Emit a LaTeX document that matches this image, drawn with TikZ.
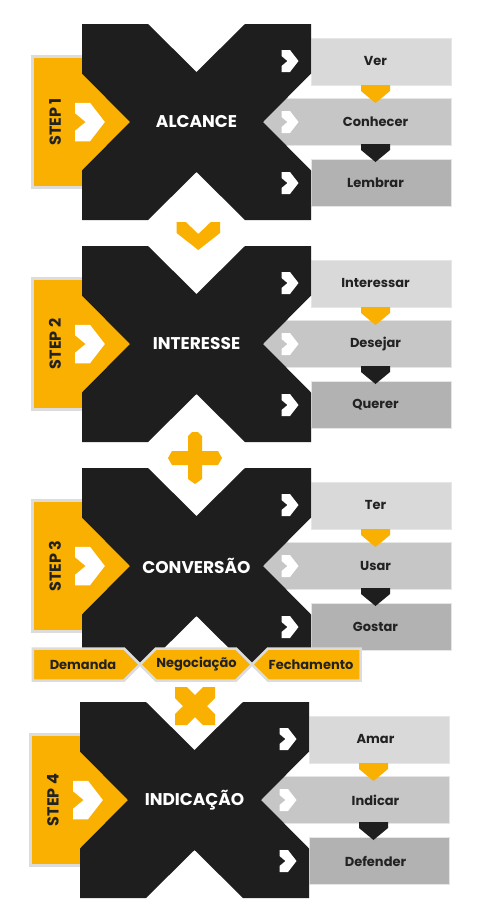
\documentclass[tikz,border=0pt]{standalone}
\usepackage{fontspec}
\setmainfont{Poppins}
\usetikzlibrary{positioning}

\definecolor{xblack}{HTML}{1E1E1E}
\definecolor{gold}{HTML}{F9B000}
\definecolor{grayA}{HTML}{D9D9D9}
\definecolor{grayB}{HTML}{C6C6C6}
\definecolor{grayC}{HTML}{B2B2B2}
\definecolor{rim}{HTML}{DCDCDC}
\definecolor{edge}{HTML}{E6E6E6}
\definecolor{ink}{HTML}{222222}

\tikzset{
  title/.style={text=white, font=\bfseries\fontsize{17}{17}\selectfont},
  steplabel/.style={text=ink, rotate=90, font=\bfseries\fontsize{16}{16}\selectfont},
  item/.style={text=ink, font=\bfseries\fontsize{13}{13}\selectfont},
  stagebox/.style={fill=gold, draw=rim, line width=2.5pt, line join=miter},
  chev/.pic={\fill[#1] (-8.5,-11) -- (0,-11) -- (8.5,0) -- (0,11) -- (-8.5,11) -- (-8.5,5) -- (-2.5,0) -- (-8.5,-5) -- cycle;},
  drop/.pic={\fill[#1] (-14.5,-9) -- (14.5,-9) -- (14.5,-3) -- (0,9) -- (-14.5,-3) -- cycle;},
  bigchev/.pic={\fill[gold] (-21.7,-14) -- (-12.5,-14) -- (0,-2) -- (12.5,-14) -- (21.7,-14) -- (21.7,-3) -- (0,14) -- (-21.7,-3) -- cycle;},
  plus/.pic={\fill[gold] (-7,-22) -- (-3,-26) -- (3,-26) -- (7,-22) -- (7,-7) -- (23,-7) -- (27,0) -- (23,7) -- (7,7)
    -- (7,21) -- (0,26) -- (-7,21) -- (-7,7) -- (-23,7) -- (-27,0) -- (-23,-7) -- (-7,-7) -- cycle;},
  cross/.pic={\fill[gold] (-20,-19) -- (-8,-19) -- (0,-11) -- (8,-19) -- (20,-19) -- (20,-8) -- (12,0) -- (20,8)
    -- (20,19) -- (8,19) -- (0,11) -- (-8,19) -- (-20,19) -- (-20,8) -- (-12,0) -- (-20,-8) -- cycle;},
  block/.pic={
    % step box and the three boxes, all under the X
    \filldraw[fill=gold, draw=rim, line width=2.5pt] (-164,-65.5) rectangle (-50,65.5);
    \filldraw[fill=grayA, draw=edge, line width=.8pt] (114.5,-84) rectangle (254.5,-37);
    \filldraw[fill=grayB, draw=edge, line width=.8pt] (60,-24) rectangle (254.5,23);
    \filldraw[fill=grayC, draw=edge, line width=.8pt] (114.5,37) rectangle (254.5,84);
    \fill[xblack] (-114.5,-98) -- (-48.5,-98) -- (0,-50) -- (48.5,-98) -- (114.5,-98) -- (114.5,-48.5) -- (66.5,0)
      -- (114.5,48.5) -- (114.5,98) -- (48.5,98) -- (0,50) -- (-48.5,98) -- (-114.5,98) -- (-114.5,48.5)
      -- (-66.5,0) -- (-114.5,-48.5) -- cycle;
    \pic[scale=1.75] at (-106.5,0) {chev=white};
    \pic at (93.5,-61) {chev=white};
    \pic at (93.5,0) {chev=white};
    \pic at (93.5,61) {chev=white};
    \pic at (179,-28) {drop=gold};
    \pic at (179,31) {drop=xblack};
  }
}

\begin{document}
\begin{tikzpicture}[x=1pt,y=-1pt,node distance=61pt,on grid]
  \useasboundingbox[fill=white] (0,0) rectangle (480,922);

  % the four steps
  \pic at (196.5,122) {block};
  \pic at (196.5,344) {block};
  \pic at (196.5,566) {block};
  \pic at (194.5,800) {block};

  % links between the steps
  \pic at (198.3,236) {bigchev};
  \pic at (195,458) {plus};
  \pic at (195,706) {cross};

  % sales stages under step 3
  \filldraw[stagebox] (32.8,648.5) -- (124,648.5) -- (140,664.5) -- (124,680.5) -- (32.8,680.5) -- cycle;
  \filldraw[stagebox] (140,664.5) -- (156,648.5) -- (236,648.5) -- (252,664.5) -- (236,680.5) -- (156,680.5) -- cycle;
  \filldraw[stagebox] (252,664.5) -- (268,648.5) -- (360.5,648.5) -- (360.5,680.5) -- (268,680.5) -- cycle;
  \node[item] (demanda) at (83,664.5) {Demanda};
  \node[item] (negociacao) at (196.5,664.5) {Negociação};
  \node[item] (fechamento) at (311,664.5) {Fechamento};

  % step 1
  \node[steplabel] (step1) at (55,122) {STEP 1};
  \node[title] (alcance) at (196.5,122) {ALCANCE};
  \node[item] (ver) at (375.5,61) {Ver};
  \node[item] (conhecer) [below=of ver] {Conhecer};
  \node[item] (lembrar) [below=of conhecer] {Lembrar};

  % step 2
  \node[steplabel] (step2) at (55,344) {STEP 2};
  \node[title] (interesse) at (196.5,344) {INTERESSE};
  \node[item] (interessar) at (375.5,283) {Interessar};
  \node[item] (desejar) [below=of interessar] {Desejar};
  \node[item] (querer) [below=of desejar] {Querer};

  % step 3
  \node[steplabel] (step3) at (55,566) {STEP 3};
  \node[title] (conversao) at (196.5,566) {CONVERSÃO};
  \node[item] (ter) at (375.5,505) {Ter};
  \node[item] (usar) [below=of ter] {Usar};
  \node[item] (gostar) [below=of usar] {Gostar};

  % step 4
  \node[steplabel] (step4) at (53,800) {STEP 4};
  \node[title] (indicacao) at (194.5,800) {INDICAÇÃO};
  \node[item] (amar) at (375.5,739) {Amar};
  \node[item] (indicar) [below=of amar] {Indicar};
  \node[item] (defender) [below=of indicar] {Defender};
\end{tikzpicture}
\end{document}
